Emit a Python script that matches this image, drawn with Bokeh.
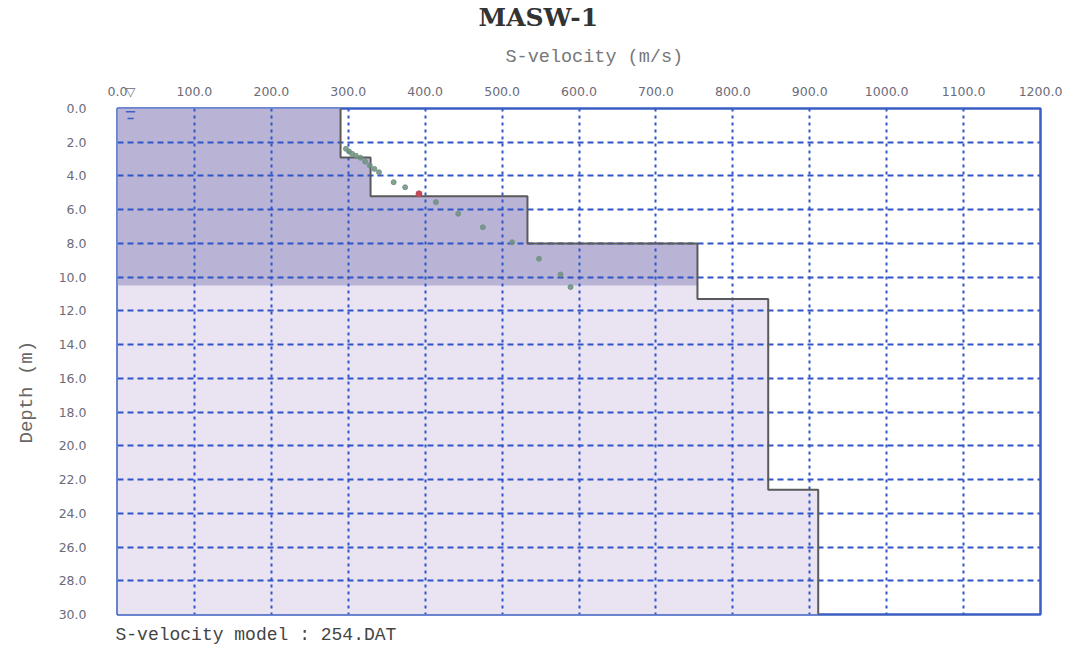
import numpy as np
from bokeh.plotting import figure
from bokeh.models import Range1d, NumeralTickFormatter, Title, FixedTicker
from bokeh.embed import file_html
from bokeh.resources import INLINE

# ---- data ----
layer_top = [0.0, 2.9, 5.2, 8.0, 11.3, 22.6]      # m
layer_vs = [290, 329, 533, 754, 846, 911]          # m/s
max_depth = 30.0
shade_depth = 10.5                                  # depth of dark shaded zone

disp_v = [297, 301, 305, 310, 316, 322, 328, 334, 340, 359, 374, 414, 443, 475, 513, 548, 576, 589]
disp_d = [2.39, 2.55, 2.69, 2.80, 2.92, 3.15, 3.38, 3.58, 3.78, 4.37, 4.67, 5.55, 6.24, 7.04, 7.93, 8.91, 9.84, 10.59]
red_v = [392]
red_d = [5.06]

water_depth = 0.0
water_v = 17

x_ticks = list(range(0, 1201, 100))
y_ticks = list(range(0, 31, 2))

title_text = "MASW-1"
x_label = "S-velocity (m/s)"
y_label = "Depth (m)"
foot_text = "S-velocity model : 254.DAT"

# ---- build step profile ----
bots = layer_top[1:] + [max_depth]
step_y, step_x = [], []
for t, b, v in zip(layer_top, bots, layer_vs):
    step_y += [t, b]
    step_x += [v, v]

dark_y, dark_x = [], []
for t, b, v in zip(layer_top, bots, layer_vs):
    if t < shade_depth:
        dark_y += [t, min(b, shade_depth)]
        dark_x += [v, v]

p = figure(width=1070, height=653,
           x_range=Range1d(0, 1200), y_range=Range1d(max_depth, 0),
           x_axis_location="above", title=None,
           output_backend="svg", toolbar_location=None,
           min_border_left=117, min_border_right=30,
           min_border_top=107, min_border_bottom=39)
p.background_fill_color = "white"
p.border_fill_color = "white"
p.outline_line_color = "#3b5fc2"
p.outline_line_width = 2.5

light = p.harea(x1=[0] * len(step_y), x2=step_x, y=step_y, fill_color="#e9e3f2")
dark = p.harea(x1=[0] * len(dark_y), x2=dark_x, y=dark_y, fill_color="#b9b4d6")
light.level = "image"
dark.level = "image"

p.line(step_x, step_y, line_color="#5a5a5a", line_width=2)

p.scatter(disp_v, disp_d, size=5, fill_color="#6f9080", line_color="#6f9080", alpha=0.85)
p.scatter(red_v, red_d, size=6, fill_color="#c04a5a", line_color="#c04a5a")

# water table ticks inside frame
p.segment(x0=[water_v - 6, water_v - 4], x1=[water_v + 6, water_v + 4],
          y0=[water_depth + 0.2, water_depth + 0.6], y1=[water_depth + 0.2, water_depth + 0.6],
          line_color="#3b5fc2", line_width=1.5)

# axes
p.xaxis.ticker = FixedTicker(ticks=x_ticks + [water_v])
p.xaxis.major_label_overrides = {water_v: "\u25BD"}
p.yaxis.ticker = y_ticks
for ax in (p.xaxis[0], p.yaxis[0]):
    ax.formatter = NumeralTickFormatter(format="0.0")
    ax.axis_line_color = None
    ax.major_tick_line_color = None
    ax.minor_tick_line_color = None
    ax.major_label_text_color = "#6b6b7a"
    ax.major_label_text_font = "DejaVu Sans"
    ax.major_label_text_font_size = "12.5px"
p.xaxis.major_label_standoff = 4
p.yaxis.major_label_standoff = 25

# grid
p.xgrid.ticker = FixedTicker(ticks=x_ticks)
p.xgrid.grid_line_color = "#2f55c8"
p.xgrid.grid_line_width = 2
p.xgrid.grid_line_dash = "3 4"
p.ygrid.grid_line_color = "#2f55c8"
p.ygrid.grid_line_width = 2
p.ygrid.grid_line_dash = "6 4"

# titles
p.add_layout(Title(text=x_label, align="left", offset=388, standoff=26,
                   text_font="Liberation Mono", text_font_size="18.5px",
                   text_font_style="normal", text_color="#777777"), "above")
p.add_layout(Title(text=title_text, align="left", offset=361, standoff=0,
                   text_font="DejaVu Serif", text_font_size="25px",
                   text_font_style="bold", text_color="#333333"), "above")
p.add_layout(Title(text=y_label, align="left", offset=171, standoff=31,
                   vertical_align="top",
                   text_font="Liberation Mono", text_font_size="19px",
                   text_font_style="normal", text_color="#666666"), "left")
p.add_layout(Title(text=foot_text, align="left", offset=-2, standoff=16,
                   text_font="Liberation Mono", text_font_size="18px",
                   text_font_style="normal", text_color="#444444"), "below")

open("out.html", "w").write(file_html(p, INLINE))
